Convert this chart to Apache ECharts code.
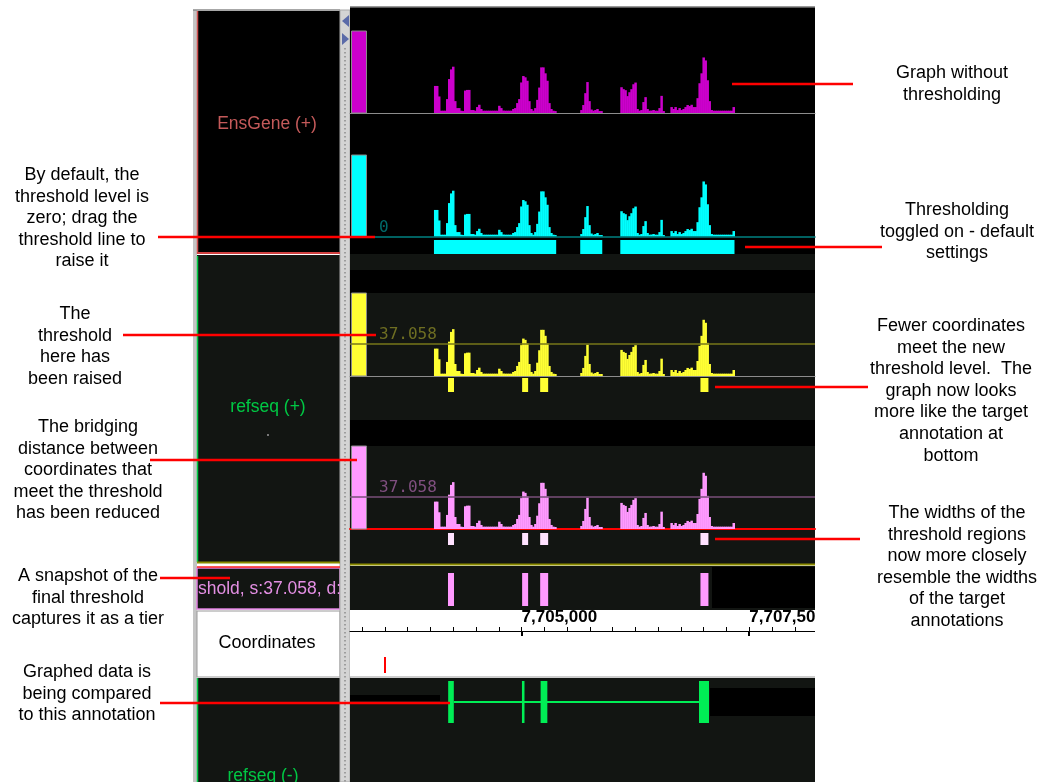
<!DOCTYPE html>
<html><head><meta charset="utf-8">
<script src="https://cdn.jsdelivr.net/npm/echarts@6/dist/echarts.min.js"></script>
<style>html,body{margin:0;padding:0;background:#fff}#c{width:1039px;height:782px}</style>
</head><body><div id="c"></div>
<script>
// ---------------- data ----------------
const viewStart = 7703116;
const viewEnd = 7708222;
const binStart = 7704038;
const binSize = 22;
const coverage = [
 31.9,31.9,19.5,2.7,2.7,2.7,16.4,40.0,51.4,54.6,
 14.0,5.8,5.8,2.7,2.3,26.5,27.2,27.2,3.5,3.5,
 2.7,7.0,9.7,4.7,2.7,2.7,2.7,2.7,2.7,2.7,
 2.7,2.7,8.5,5.8,2.9,2.7,2.7,2.7,2.7,4.7,
 5.8,11.7,16.4,36.0,43.6,42.1,38.0,14.0,4.7,2.7,
 5.8,15.5,30.0,53.8,53.8,46.8,38.0,11.7,4.7,2.7,
 2.3,0,0,0,0,0,0,0,0,0,
 0,0,0,3.5,9.4,23.4,36.5,14.0,4.1,2.7,
 3.5,4.7,2.3,2.3,0,0,0,0,0,0,
 0,0,0,30.4,28.1,26.9,19.9,24.5,28.1,33.9,
 35.9,4.7,2.7,3.5,12.9,18.7,4.7,2.7,2.9,3.5,
 2.7,2.7,5.8,20.2,2.3,0,0,0,7.0,4.7,
 7.0,3.5,5.8,3.5,4.7,7.0,9.4,8.2,9.7,7.0,
 7.0,17.5,35.1,46.8,65.5,62.0,38.6,14.0,3.5,2.7,
 2.7,2.7,2.7,2.7,2.7,2.7,2.7,2.7,2.7,7.0
];
const yMax = 96.7;
const defaultThreshold = 0;
const raisedThreshold = 37.058;
const defaultBridge = 100;
const reducedBridge = 20;
const geneExons = [[7704194,7704256],[7705004,7705032],[7705209,7705283],[7706948,7707058]];
const rulerMinorTicks = [7703250,7703500,7703750,7704000,7704250,7704500,7704750,7705000,7705250,7705500,
  7705750,7706000,7706250,7706500,7706750,7707000,7707250,7707500,7707750,7708000];
const rulerMajorTicks = [7705000,7707500];
const trackNames = ['EnsGene (+)','refseq (+)','refseq (-)','Coordinates'];
const tierLabel = 'shold, s:37.058, d:';

// ---------------- derived ----------------
const histData = coverage.map((v,i)=>[binStart+i*binSize, binStart+(i+1)*binSize, v]).filter(d=>d[2]>0);
function regions(vals, thr, bridge){
  const out=[];
  vals.forEach((v,i)=>{
    if(v>thr){
      const s=binStart+i*binSize, e=s+binSize;
      const last=out[out.length-1];
      if(last && s-last[1] <= bridge) last[1]=e; else out.push([s,e]);
    }
  });
  return out;
}
const cyanRegions = regions(coverage, defaultThreshold, defaultBridge);
const yellowRegions = regions(coverage, raisedThreshold, defaultBridge);
const pinkRegions = regions(coverage, raisedThreshold, reducedBridge);

const L=350, W=465;
const gridDefs = [
 {top:31,height:82,kind:'graph',base:'#8c8c8c',bw:1},   //0 magenta
 {top:155,height:82,kind:'graph',base:'#006868',bw:1.5},//1 cyan
 {top:240,height:14,kind:'blk'},                         //2
 {top:293,height:83,kind:'graph',base:'#8c8c8c',bw:1},   //3 yellow
 {top:378,height:14,kind:'blk'},                         //4
 {top:446,height:83,kind:'graph',base:'#ff0000',bw:2},   //5 pink
 {top:533,height:12,kind:'blk'},                         //6
 {top:573,height:33,kind:'blk'},                         //7 snapshot
 {top:630,height:1,kind:'ruler'},                        //8
 {top:681,height:42,kind:'blk'}                          //9 gene
];
const grid=[], xAxis=[], yAxis=[], xIdx={};
gridDefs.forEach((g,i)=>{
  grid.push({left:L,top:g.top,width:W,height:g.height,containLabel:false});
  yAxis.push({gridIndex:i,type:'value',min:0,max:g.kind==='graph'?yMax:1,show:false});
  if(g.kind==='ruler'){
    xIdx[i]=xAxis.length;
    xAxis.push({gridIndex:i,type:'value',position:'top',min:viewStart,max:viewEnd,
      axisLine:{show:true,lineStyle:{color:'#000',width:1}},
      axisTick:{show:true,customValues:rulerMinorTicks,length:4,lineStyle:{color:'#000',width:1}},
      axisLabel:{show:true,customValues:rulerMajorTicks,align:'left',margin:4,color:'#000',
        fontFamily:'Liberation Sans',fontWeight:'bold',fontSize:17,
        formatter:v=>v.toLocaleString('en-US')},
      splitLine:{show:false}});
    xAxis.push({gridIndex:i,type:'value',position:'bottom',min:viewStart,max:viewEnd,
      axisLine:{show:false},
      axisTick:{show:true,customValues:rulerMajorTicks,length:5,lineStyle:{color:'#000',width:2}},
      axisLabel:{show:false},splitLine:{show:false}});
  } else {
    xIdx[i]=xAxis.length;
    xAxis.push({gridIndex:i,type:'value',min:viewStart,max:viewEnd,show:g.kind==='graph',
      axisLine:{show:g.kind==='graph',lineStyle:{color:g.base||'#888',width:g.bw||1}},
      axisTick:{show:false},axisLabel:{show:false},splitLine:{show:false}});
  }
});

function histSeries(gi,color,markLine){
  const s={type:'custom',xAxisIndex:xIdx[gi],yAxisIndex:gi,data:histData,encode:{x:[0,1],y:2},silent:true,z:3,
    renderItem:(p,api)=>{
      const a=api.coord([api.value(0),0]), b=api.coord([api.value(1),api.value(2)]);
      return {type:'rect',shape:{x:a[0],y:b[1],width:Math.max(b[0]-a[0]+0.5,1),height:a[1]-b[1]},style:{fill:color}};
    }};
  if(markLine) s.markLine=markLine;
  return s;
}
function handleSeries(gi,color){
  return {type:'custom',xAxisIndex:xIdx[gi],yAxisIndex:gi,data:[[viewStart,yMax]],silent:true,z:2,
    renderItem:(p,api)=>{
      const t=api.coord([api.value(0),api.value(1)]), b=api.coord([api.value(0),0]);
      return {type:'rect',shape:{x:t[0]+1.5,y:t[1],width:15,height:b[1]-t[1]},style:{fill:color,stroke:'#8a8a8a',lineWidth:1}};
    }};
}
function blockSeries(gi,data,color){
  return {type:'custom',xAxisIndex:xIdx[gi],yAxisIndex:gi,data:data,encode:{x:[0,1]},silent:true,z:3,
    renderItem:(p,api)=>{
      const a=api.coord([api.value(0),1]), b=api.coord([api.value(1),0]);
      return {type:'rect',shape:{x:a[0],y:a[1],width:Math.max(b[0]-a[0],2),height:b[1]-a[1]},style:{fill:color}};
    }};
}
function thrLine(val,color,label,labelColor){
  return {symbol:'none',silent:true,animation:false,
    lineStyle:{color:color,width:1.5,type:'solid'},
    label:{show:true,position:'insideStartTop',formatter:label,color:labelColor,
      fontFamily:'DejaVu Sans Mono',fontSize:16,padding:[0,0,0,28],distance:1},
    data:[{yAxis:val}]};
}

const series=[
  handleSeries(0,'#cc00cc'), histSeries(0,'#cc00cc'),
  handleSeries(1,'#00ffff'), histSeries(1,'#00ffff',thrLine(defaultThreshold,'#006868','0','#006a6a')),
  blockSeries(2,cyanRegions,'#00ffff'),
  handleSeries(3,'#ffff33'), histSeries(3,'#ffff33',thrLine(raisedThreshold,'#77771a','37.058','#6e6e22')),
  blockSeries(4,yellowRegions,'#ffff33'),
  handleSeries(5,'#ff99ff'), histSeries(5,'#ff99ff',thrLine(raisedThreshold,'#7a4f7a','37.058','#7f4f7f')),
  blockSeries(6,pinkRegions,'#ffe2ff'),
  blockSeries(7,pinkRegions,'#ff99ff'),
  {type:'line',xAxisIndex:xIdx[9],yAxisIndex:9,symbol:'none',silent:true,z:3,
    lineStyle:{color:'#00ee55',width:2},
    data:[[geneExons[0][1],0.5],[geneExons[geneExons.length-1][0],0.5]]},
  blockSeries(9,geneExons,'#00ee55')
];

// ---------------- decoration ----------------
const DARK='#121512';
const g=[];
function rect(x,y,w,h,fill,extra){g.push(Object.assign({type:'rect',shape:{x,y,width:w,height:h},style:{fill},silent:true,z:0},extra||{}));}
function line(x1,y1,x2,y2,color,w,z){g.push({type:'line',shape:{x1,y1,x2,y2},style:{stroke:color,lineWidth:w},silent:true,z:z||1});}
function text(x,y,str,font,fill,align,z,lh){g.push({type:'text',x,y,silent:true,z:z||2,
  style:{text:str,font,fill,align:align||'center',verticalAlign:'middle',lineHeight:lh}});}

// left label column
rect(193,10,4,772,'#c4c4c4');
line(193,10,340,10,'#8a8a8a',1.5);
rect(197,11,143,243,'#000');
line(197.5,11,197.5,254,'#d05050',1.5,1);
line(197,253,340,253,'#d04040',2,1);
rect(197,255,143,307,DARK);
line(197.5,256,197.5,562,'#00cc44',1.5,1);
line(197,562.5,340,562.5,'#8c8c00',2,1);
line(197,567,340,567,'#ff2020',1.5,1);
rect(197,568,143,41,DARK,{style:{fill:DARK,stroke:'#e080e0',lineWidth:1.5}});
rect(197,611,143,66,'#fff',{style:{fill:'#fff',stroke:'#9a9a9a',lineWidth:1}});
rect(197,678,143,104,DARK);
line(197.5,678,197.5,782,'#00cc44',1.5,1);
text(267,124,trackNames[0],'17.5px "Liberation Sans"','#c45a5a');
text(268,407,trackNames[1],'17.5px "Liberation Sans"','#00c844');
rect(267,434,2,2,'#777');
text(263,776,trackNames[2],'17.5px "Liberation Sans"','#00c844');
text(267,643,trackNames[3],'18px "Liberation Sans"','#000');
text(198,589,tierLabel,'17.5px "Liberation Sans"','#e38fe3','left');

// scrollbar
rect(340,10,10,772,'#d4d4d4',{style:{fill:'#d4d4d4',stroke:'#a8a8a8',lineWidth:1}});
g.push({type:'line',shape:{x1:345,y1:48,x2:345,y2:782},style:{stroke:'#8a8a8a',lineWidth:1.5,lineDash:[1.5,2.5]},silent:true,z:1});
g.push({type:'polygon',shape:{points:[[349,15],[342,21],[349,27]]},style:{fill:'#5a6aa8'},silent:true,z:1});
g.push({type:'polygon',shape:{points:[[342,33],[349,39],[342,45]]},style:{fill:'#5a6aa8'},silent:true,z:1});

// main panel backgrounds
rect(350,7,465,247,'#000');
line(350,7,815,7,'#777',1.5);
rect(350,254,465,16,DARK);
rect(350,270,465,23,'#000');
rect(350,293,465,127,DARK);
rect(350,420,465,26,'#000');
rect(350,446,465,118,DARK);
line(350,564.5,815,564.5,'#8c8c00',2,1);
rect(350,566,465,44,DARK);
rect(712,567,103,41,'#000');
rect(350,610,465,67,'#fff');
line(350,677,815,677,'#9a9a9a',1,1);
rect(350,678,465,104,DARK);
rect(350,695,90,6,'#000');
rect(710,688,105,28,'#000');
line(385,657,385,673,'#ff0000',2,1);
// clip ruler label overflow
rect(815,600,60,35,'#fff',{z:50});

// annotations
const AF='18px "Liberation Sans"', LH=21.6;
function note(cx,cy,lines){ text(cx,cy+(lines.length-1)*LH/2,lines.join('\n'),AF,'#000','center',60,LH); }
note(82,175,['By default, the','threshold level is','zero; drag the','threshold line to','raise it']);
note(75,314,['The','threshold','here has','been raised']);
note(88,427,['The bridging','distance between','coordinates that','meet the threshold','has been reduced']);
note(88,576,['A snapshot of the','final threshold','captures it as a tier']);
note(87,672,['Graphed data is','being compared','to this annotation']);
note(952,73,['Graph without','thresholding']);
note(957,210,['Thresholding','toggled on - default','settings']);
note(951,326,['Fewer coordinates','meet the new','threshold level.  The','graph now looks','more like the target','annotation at','bottom']);
note(957,513,['The widths of the','threshold regions','now more closely','resemble the widths','of the target','annotations']);
const RED='#ff0000';
[[158,237,375,237],[123,335,376,335],[150,460,357,460],[160,578,230,578],[160,703,450,703],
 [732,84,853,84],[745,247,882,247],[715,387,868,387],[715,539,860,539]].forEach(l=>line(l[0],l[1],l[2],l[3],RED,2.5,60));

const chart = echarts.init(document.getElementById('c'));
chart.setOption({
  animation:false,
  backgroundColor:'#fff',
  grid, xAxis, yAxis, series,
  graphic:{elements:g}
});
</script></body></html>
